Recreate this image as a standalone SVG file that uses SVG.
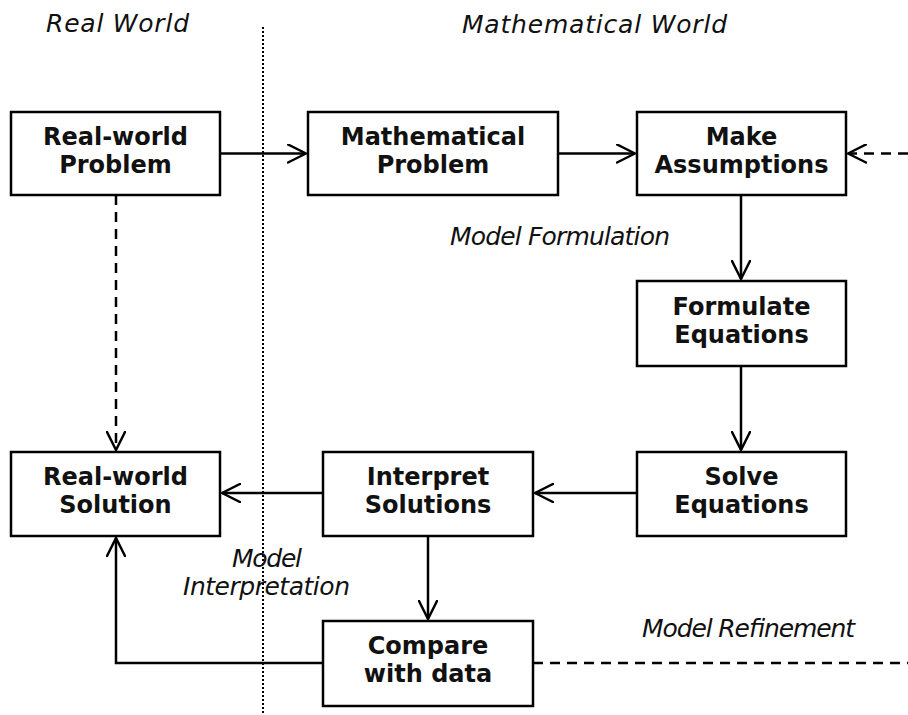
<svg xmlns="http://www.w3.org/2000/svg" width="908" height="715" viewBox="0 0 908 715">
<style>
.box{fill:#fff;stroke:#000;stroke-width:2.5}
.nt{font-family:"DejaVu Sans",Verdana,sans-serif;font-weight:bold;font-size:24px;text-anchor:middle;fill:#111}
.lb{font-family:"DejaVu Sans",Verdana,sans-serif;font-style:italic;font-size:25px;fill:#111}
.ln{fill:none;stroke:#000;stroke-width:2.5}
.ds{stroke-dasharray:10 7}
</style>
<defs>
<marker id="ah" viewBox="0 0 20 20" refX="19" refY="10" markerWidth="20" markerHeight="20" markerUnits="userSpaceOnUse" orient="auto">
<path d="M1,1 L19,10 L1,19" fill="none" stroke="#000" stroke-width="2.5" stroke-linejoin="round" stroke-linecap="round"/>
</marker>
</defs>
<rect width="908" height="715" fill="#fff"/>
<line x1="263" y1="27" x2="263" y2="715" stroke="#000" stroke-width="2" stroke-dasharray="2 2"/>
<text class="lb" x="46" y="32" textLength="143">Real World</text>
<text class="lb" x="462" y="33" textLength="265">Mathematical World</text>
<text class="lb" x="450" y="245" textLength="220">Model Formulation</text>
<text class="lb" x="232" y="567" textLength="70">Model</text>
<text class="lb" x="183" y="595" textLength="167">Interpretation</text>
<text class="lb" x="642" y="637" textLength="213">Model Refinement</text>
<g id="connectors">
<line class="ln" x1="220" y1="153.5" x2="306" y2="153.5" marker-end="url(#ah)"/>
<line class="ln" x1="558" y1="153.5" x2="635" y2="153.5" marker-end="url(#ah)"/>
<line class="ln ds" x1="908" y1="153.5" x2="848" y2="153.5" marker-end="url(#ah)"/>
<line class="ln" x1="741" y1="195" x2="741" y2="279" marker-end="url(#ah)"/>
<line class="ln" x1="741" y1="366" x2="741" y2="450" marker-end="url(#ah)"/>
<line class="ln" x1="636" y1="493" x2="535" y2="493" marker-end="url(#ah)"/>
<line class="ln" x1="323" y1="493" x2="222" y2="493" marker-end="url(#ah)"/>
<line class="ln" x1="428" y1="536" x2="428" y2="619" marker-end="url(#ah)"/>
<line class="ln ds" x1="116" y1="195" x2="116" y2="450" marker-end="url(#ah)"/>
<polyline class="ln" points="323,663 116,663 116,538" marker-end="url(#ah)"/>
<line class="ln ds" x1="533" y1="663" x2="908" y2="663"/>
</g>
<g id="real-world-problem"><rect class="box" x="11" y="112" width="209" height="83"/><text class="nt" x="115.5" y="145">Real-world</text><text class="nt" x="115.5" y="173">Problem</text></g>
<g id="mathematical-problem"><rect class="box" x="308" y="112" width="250" height="83"/><text class="nt" x="433" y="145">Mathematical</text><text class="nt" x="433" y="173">Problem</text></g>
<g id="make-assumptions"><rect class="box" x="637" y="112" width="209" height="83"/><text class="nt" x="741.5" y="145">Make</text><text class="nt" x="741.5" y="173">Assumptions</text></g>
<g id="formulate-equations"><rect class="box" x="637" y="281" width="209" height="85"/><text class="nt" x="741.5" y="315">Formulate</text><text class="nt" x="741.5" y="343">Equations</text></g>
<g id="solve-equations"><rect class="box" x="637" y="452" width="209" height="84"/><text class="nt" x="741.5" y="485">Solve</text><text class="nt" x="741.5" y="513">Equations</text></g>
<g id="interpret-solutions"><rect class="box" x="323" y="452" width="210" height="84"/><text class="nt" x="428" y="485">Interpret</text><text class="nt" x="428" y="513">Solutions</text></g>
<g id="real-world-solution"><rect class="box" x="11" y="452" width="209" height="84"/><text class="nt" x="115.5" y="485">Real-world</text><text class="nt" x="115.5" y="513">Solution</text></g>
<g id="compare-with-data"><rect class="box" x="323" y="621" width="210" height="85"/><text class="nt" x="428" y="654">Compare</text><text class="nt" x="428" y="682">with data</text></g>
</svg>
